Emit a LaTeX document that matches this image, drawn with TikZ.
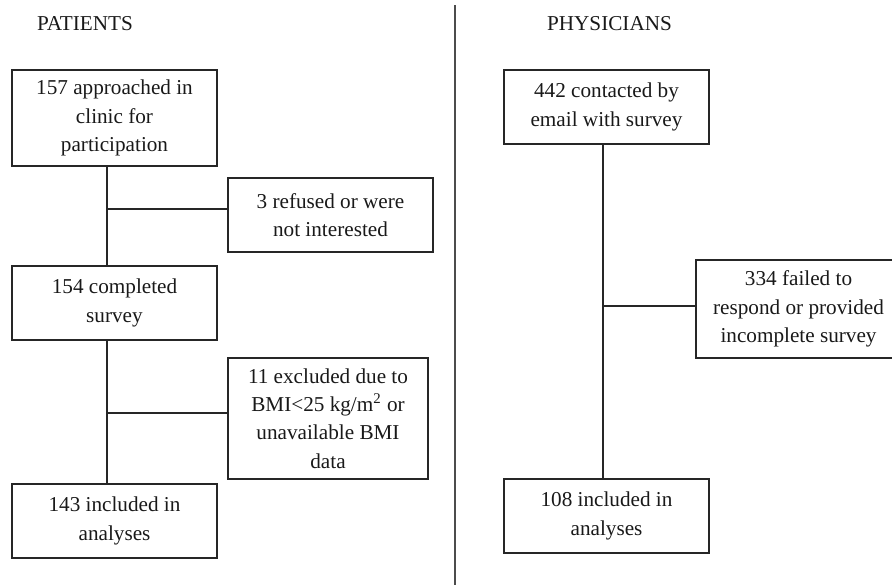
\documentclass[tikz,border=0pt]{standalone}
\usepackage{fontspec}
\setmainfont{Liberation Serif}
\usetikzlibrary{positioning}

\tikzset{
  flowbox/.style = {draw = black!85, line width = 0.6pt, align = center, inner sep = 0pt,
                    minimum width = 102.5pt, minimum height = 37pt},
  title/.style = {inner sep = 0pt, anchor = base},
  link/.style = {draw = black!85, line width = 0.6pt}
}

\begin{document}
\begin{tikzpicture}[x = 0.5pt, y = -0.5pt, font = \fontsize{10.6}{14.2}\selectfont, text = black!90]
        \useasboundingbox (0, 0) rectangle (892, 585);

        % patients
        \node[title] (pat) at (85, 30) {PATIENTS};
        \node[flowbox, minimum height = 48pt] (p1) at (114.5, 118) {157 approached in\\clinic for\\participation};
        \node[flowbox] (pref) at (330.5, 215) {3 refused or were\\not interested};
        \node[flowbox] (p2) at (114.5, 303) {154 completed\\survey};
        \node[flowbox, minimum width = 100pt, minimum height = 60.5pt] (pexc) at (328, 418.5)
          {11 excluded due to\\BMI<25 kg/m\textsuperscript{2} or\\unavailable BMI\\data};
        \node[flowbox] (p3) at (114.5, 521) {143 included in\\analyses};

        % physicians
        \node[title] (phy) at (609.5, 30) {PHYSICIANS};
        \node[flowbox] (d1) at (606.5, 107) {442 contacted by\\email with survey};
        \node[flowbox, minimum height = 49pt] (dfail) at (798.5, 309)
          {334 failed to\\respond or provided\\incomplete survey};
        \node[flowbox] (d2) at (606.5, 516) {108 included in\\analyses};

        % divider
        \coordinate (top) at (455, 5);
        \coordinate (bot) at (455, 585);
        \draw[link, draw = black!70] (top) -- (bot);

        % connectors
        \foreach \a/\b in {p1/p2, p2/p3}
          \draw[link] ([xshift = -3.75pt]\a.south) -- ([xshift = -3.75pt]\b.north);
        \draw[link] ([xshift = -1.75pt]d1.south) -- ([xshift = -1.75pt]d2.north);

        \coordinate (j1) at (107, 209);
        \coordinate (j2) at (107, 413);
        \coordinate (j3) at (603, 306);
        \foreach \j/\b in {j1/pref, j2/pexc, j3/dfail}
          \draw[link] (\j) -- (\j -| \b.west);
      \end{tikzpicture}
\end{document}
